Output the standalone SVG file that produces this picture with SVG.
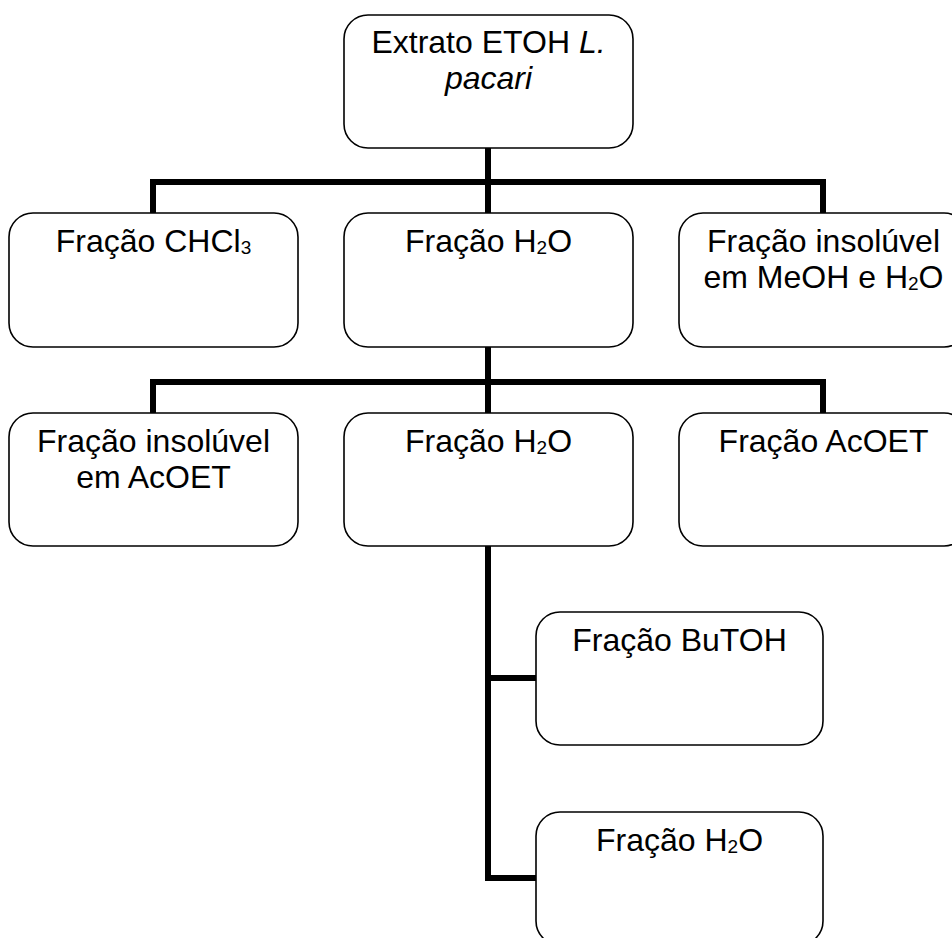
<svg xmlns="http://www.w3.org/2000/svg" width="952" height="938" viewBox="0 0 952 938">
<style>
.box{fill:#fff;stroke:#000;stroke-width:1.6}
.t{font-family:"Liberation Sans",Arial,sans-serif;font-size:32px;fill:#000;text-anchor:middle}
.sub{font-size:19px}
.con{stroke:#000;stroke-width:6;fill:none;stroke-linecap:butt}
</style>
<rect width="952" height="938" fill="#fff"/>
<g id="connectors">
<path class="con" d="M488 148V182M150 182H826M153 179V213M488 182V213M823 179V213"/>
<path class="con" d="M488 347V382M150 382H826M153 379V413M488 382V413M823 379V413"/>
<path class="con" d="M488 546V881M488 678H536M485 878H536"/>
</g>
<g id="n-extrato">
<rect class="box" x="344" y="15" width="289" height="133" rx="24"/>
<text class="t" x="488.5" y="53">Extrato ETOH <tspan font-style="italic">L.</tspan></text>
<text class="t" x="488.5" y="89" font-style="italic">pacari</text>
</g>
<g id="n-chcl3">
<rect class="box" x="9" y="213" width="289" height="134" rx="24"/>
<text class="t" x="153.5" y="252">Fração CHCl<tspan class="sub" dy="2">3</tspan></text>
</g>
<g id="n-h2o-1">
<rect class="box" x="344" y="213" width="289" height="134" rx="24"/>
<text class="t" x="488.5" y="252">Fração H<tspan class="sub" dy="2">2</tspan><tspan dy="-2">O</tspan></text>
</g>
<g id="n-insol-meoh">
<rect class="box" x="679" y="213" width="289" height="134" rx="24"/>
<text class="t" x="823.5" y="252">Fração insolúvel</text>
<text class="t" x="823.5" y="288">em MeOH e H<tspan class="sub" dy="2">2</tspan><tspan dy="-2">O</tspan></text>
</g>
<g id="n-insol-acoet">
<rect class="box" x="9" y="413" width="289" height="133" rx="24"/>
<text class="t" x="153.5" y="452">Fração insolúvel</text>
<text class="t" x="153.5" y="488">em AcOET</text>
</g>
<g id="n-h2o-2">
<rect class="box" x="344" y="413" width="289" height="133" rx="24"/>
<text class="t" x="488.5" y="452">Fração H<tspan class="sub" dy="2">2</tspan><tspan dy="-2">O</tspan></text>
</g>
<g id="n-acoet">
<rect class="box" x="679" y="413" width="289" height="133" rx="24"/>
<text class="t" x="823.5" y="452">Fração AcOET</text>
</g>
<g id="n-butoh">
<rect class="box" x="536" y="612" width="287" height="133" rx="24"/>
<text class="t" x="679.5" y="651">Fração BuTOH</text>
</g>
<g id="n-h2o-3">
<rect class="box" x="536" y="812" width="287" height="133" rx="24"/>
<text class="t" x="679.5" y="851">Fração H<tspan class="sub" dy="2">2</tspan><tspan dy="-2">O</tspan></text>
</g>
</svg>
